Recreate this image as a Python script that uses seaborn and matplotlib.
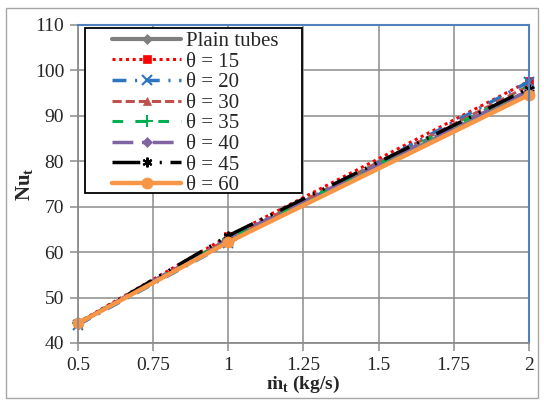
import numpy as np
import pandas as pd
import matplotlib
matplotlib.use('Agg')
import matplotlib.pyplot as plt
import matplotlib.patches as mpatches
import seaborn as sns

# data
m_dot = [0.5, 1.0, 2.0]
nu_plain = [44.3, 62.6, 95.2]
nu_15 = [44.5, 63.5, 97.6]
nu_20 = [44.0, 62.0, 97.5]
nu_30 = [44.3, 62.9, 96.6]
nu_35 = [44.4, 62.8, 96.1]
nu_40 = [44.3, 63.0, 95.6]
nu_45 = [44.2, 63.6, 96.0]
nu_60 = [44.3, 62.2, 94.6]
labels = ['Plain tubes', 'θ = 15', 'θ = 20', 'θ = 30', 'θ = 35', 'θ = 40', 'θ = 45', 'θ = 60']
x_ticks = [0.5, 0.75, 1, 1.25, 1.5, 1.75, 2]
x_ticklabels = ['0.5', '0.75', '1', '1.25', '1.5', '1.75', '2']
y_ticks = [40, 50, 60, 70, 80, 90, 100, 110]

series = [nu_plain, nu_15, nu_20, nu_30, nu_35, nu_40, nu_45, nu_60]
df = pd.DataFrame({
    'm': m_dot * len(series),
    'Nu': sum(series, []),
    'case': np.repeat(labels, len(m_dot)),
})

sns.set_theme(style='white')
plt.rcParams['font.family'] = ['Liberation Serif', 'DejaVu Serif']
plt.rcParams['mathtext.fontset'] = 'custom'
plt.rcParams['mathtext.rm'] = 'Liberation Serif'
plt.rcParams['mathtext.bf'] = 'Liberation Serif:bold'

# styles per series: colour, linestyle, marker, marker size, line width
styles = {
    'Plain tubes': ('#7f7f7f', '-', 'D', 5, 3.0),
    'θ = 15': ('#ff0000', (0, (1, 1.2)), 's', 6, 2.2),
    'θ = 20': ('#2e75c0', (0, (4, 2.5, 0.6, 2.5)), 'x', 7, 2.5),
    'θ = 30': ('#c0504d', (0, (3, 1.3)), '^', 6, 2.2),
    'θ = 35': ('#00b050', (0, (3.5, 4)), '+', 8, 2.2),
    'θ = 40': ('#8064a2', (0, (6, 2.5, 0.6, 2.5)), 'D', 5, 2.5),
    'θ = 45': ('#000000', (0, (8, 2.5, 0.6, 2.5, 0.6, 2.5)), (6, 2, 0), 7, 2.5),
    'θ = 60': ('#f79646', '-', 'o', 8, 3.2),
}

fig, ax = plt.subplots(figsize=(5.44, 4.03), dpi=100)
fig.subplots_adjust(left=0.1434, right=0.972, top=0.938, bottom=0.149)

# chart outer border
fig.patches.append(mpatches.Rectangle((6 / 544, 5 / 403), 532 / 544, 390 / 403,
                                      transform=fig.transFigure, fill=False,
                                      edgecolor='#a6a6a6', linewidth=1.0))

for lab in labels:
    c, ls, mk, ms, lw = styles[lab]
    sub = df[df['case'] == lab]
    sns.lineplot(data=sub, x='m', y='Nu', ax=ax, color=c, linestyle=ls,
                 marker=mk, markersize=ms, linewidth=lw, label=lab, clip_on=False,
                 markeredgecolor=c, markeredgewidth=1.5 if mk in ('x', '+', (6, 2, 0)) else 0.5)

ax.set_xlim(0.5, 2)
ax.set_ylim(40, 110)
ax.set_xticks(x_ticks)
ax.set_xticklabels(x_ticklabels)
ax.set_yticks(y_ticks)
ax.grid(True, color='#8c8c8c', linewidth=1.1)
ax.tick_params(axis='both', direction='out', length=6, width=1.1, color='#8c8c8c',
               labelsize=14, pad=4, bottom=True, left=True)
for s in ['left', 'bottom']:
    ax.spines[s].set_color('#8c8c8c')
    ax.spines[s].set_linewidth(1.3)
for s in ['top', 'right']:
    ax.spines[s].set_color('#4f81bd')
    ax.spines[s].set_linewidth(1.5)

ax.set_xlabel('ṁ$_\\mathbf{t}$ (kg/s)', fontsize=14, fontweight='bold', labelpad=0)
ax.set_ylabel('$\\mathbf{Nu_t}$', fontsize=15, labelpad=0)

# legend box drawn separately (wide side padding like the original)
ax.add_patch(mpatches.Rectangle((0.0155, 0.472), 0.4815, 0.5186, transform=ax.transAxes,
                                facecolor='white', edgecolor='black', linewidth=1.3,
                                zorder=4.5, clip_on=False))
leg = ax.legend(loc='upper left', bbox_to_anchor=(0.076, 0.98), borderaxespad=0,
                fontsize=15, handlelength=3.3, labelspacing=0.05, handletextpad=0.25,
                borderpad=0, frameon=False)
leg.set_zorder(5)

fig.savefig('out.png', dpi=100)
